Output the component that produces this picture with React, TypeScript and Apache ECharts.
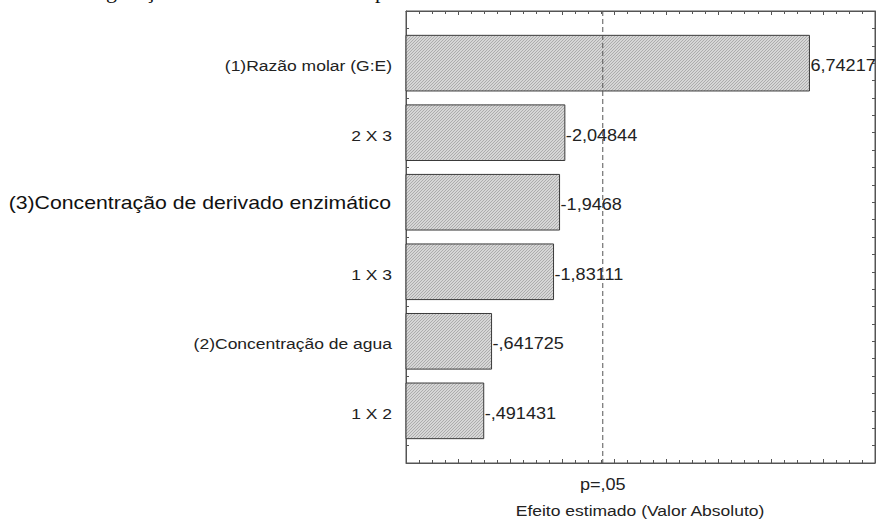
import React, { useEffect, useRef } from "react";
import * as echarts from "echarts";

const categories = [
  "(1)Razão molar (G:E)",
  "2 X 3",
  "(3)Concentração de derivado enzimático",
  "1 X 3",
  "(2)Concentração de agua",
  "1 X 2",
];
const effects = [6.74217, -2.04844, -1.9468, -1.83111, -0.641725, -0.491431];
const bigLabelIndex = 2;
const pCritical = 2.776;
const pLabel = "p=,05";
const xAxisTitle = "Efeito estimado (Valor Absoluto)";
const captionFragment = "Configuração dos efeitos estimados p";
const xMin = -1;
const xMax = 8;
const yMin = 0.25;
const yMax = 6.75;

const fmt = (v: number) => String(v).replace(".", ",").replace(/^(-?)0,/, "$1,");

function makePattern(): HTMLCanvasElement {
  const c = document.createElement("canvas");
  c.width = 3;
  c.height = 3;
  const ctx = c.getContext("2d")!;
  ctx.fillStyle = "#d6d6d6";
  ctx.fillRect(0, 0, 3, 3);
  ctx.fillStyle = "#acacac";
  for (let i = 0; i < 3; i++) {
    ctx.fillRect(i, 2 - i, 1, 1);
  }
  return c;
}

export default function App() {
  const ref = useRef<HTMLDivElement>(null);
  useEffect(() => {
    document.body.style.margin = "0";
    const chart = echarts.init(ref.current!, null, { renderer: "svg" });
    const pattern = { image: makePattern(), repeat: "repeat" } as any;
    const font = '"Liberation Sans", Arial, sans-serif';
    const axisColor = "#555";
    const sx = 1.13;
    const barData = effects.map((e, i) => [Math.abs(e), i + 1, e, i]);

    const valueAxisCommon = {
      type: "value",
      min: xMin,
      max: xMax,
      interval: 1,
      axisLine: { show: true, onZero: false, lineStyle: { color: axisColor, width: 1 } },
      axisTick: { show: true, inside: true, length: 4, lineStyle: { color: axisColor } },
      minorTick: { show: true, splitNumber: 4, length: 3, lineStyle: { color: axisColor } },
      splitLine: { show: false },
      axisLabel: { show: false },
    };
    const catAxisCommon = {
      type: "value",
      inverse: true,
      min: yMin,
      max: yMax,
      interval: 0.25,
      axisLine: { show: true, onZero: false, lineStyle: { color: axisColor, width: 1 } },
      axisTick: { show: true, inside: true, length: 3, lineStyle: { color: axisColor } },
      splitLine: { show: false },
      axisLabel: { show: false },
    };

    chart.setOption({
      animation: false,
      backgroundColor: "#fff",
      grid: {
        left: 406,
        top: 11,
        right: 1,
        bottom: 57,
        containLabel: false,
        show: true,
        borderColor: axisColor,
        borderWidth: 1,
        backgroundColor: "transparent",
      },
      xAxis: [
        { ...valueAxisCommon, position: "bottom" },
        { ...valueAxisCommon, position: "top" },
      ],
      yAxis: [
        { ...catAxisCommon, position: "left" },
        { ...catAxisCommon, position: "right" },
      ],
      series: [
        {
          type: "custom",
          name: "efeitos",
          xAxisIndex: 0,
          yAxisIndex: 0,
          clip: false,
          z: 2,
          data: barData,
          renderItem: (params: any, api: any) => {
            const val = api.value(0);
            const pos = api.value(1);
            const eff = api.value(2);
            const idx = api.value(3);
            const start = api.coord([xMin, pos]);
            const end = api.coord([val, pos]);
            const h = api.size([0, 0.8])[1];
            const big = idx === bigLabelIndex;
            return {
              type: "group",
              children: [
                {
                  type: "rect",
                  shape: { x: start[0], y: start[1] - h / 2, width: end[0] - start[0], height: h },
                  style: { fill: pattern, stroke: "#3a3a3a", lineWidth: 1 },
                },
                {
                  type: "text",
                  x: end[0] + 1,
                  y: end[1] + 3,
                  scaleX: sx,
                  style: {
                    text: fmt(eff),
                    font: `16px ${font}`,
                    fill: "#222",
                    align: "left",
                    verticalAlign: "middle",
                  },
                },
                {
                  type: "text",
                  x: start[0] - (big ? 15 : 14),
                  y: start[1] + (big ? 0 : 3),
                  scaleX: sx,
                  style: {
                    text: categories[idx],
                    font: `${big ? 18.8 : 15.5}px ${font}`,
                    fill: big ? "#111" : "#222",
                    align: "right",
                    verticalAlign: "middle",
                  },
                },
              ],
            };
          },
        },
        {
          type: "custom",
          name: "p",
          xAxisIndex: 0,
          yAxisIndex: 0,
          clip: false,
          z: 5,
          data: [[pCritical, yMin]],
          renderItem: (params: any, api: any) => {
            const cs = params.coordSys;
            const p = api.coord([api.value(0), api.value(1)]);
            return {
              type: "group",
              children: [
                {
                  type: "line",
                  shape: { x1: p[0], y1: cs.y, x2: p[0], y2: cs.y + cs.height },
                  style: { stroke: "#555", lineWidth: 1, lineDash: [5, 3] },
                },
                {
                  type: "text",
                  x: p[0],
                  y: cs.y + cs.height + 22,
                  scaleX: sx,
                  style: {
                    text: pLabel,
                    font: `16px ${font}`,
                    fill: "#222",
                    align: "center",
                    verticalAlign: "middle",
                  },
                },
              ],
            };
          },
        },
      ],
      graphic: [
        {
          type: "text",
          x: 640,
          y: 511,
          scaleX: sx,
          style: {
            text: xAxisTitle,
            font: `15.5px ${font}`,
            fill: "#222",
            align: "center",
            verticalAlign: "middle",
          },
        },
        {
          type: "text",
          x: 56,
          y: -21,
          style: {
            text: captionFragment,
            font: '22px "Liberation Serif", "Times New Roman", serif',
            fill: "#111",
          },
        },
      ],
    });
    return () => chart.dispose();
  }, []);
  return (
    <div
      ref={ref}
      style={{ position: "fixed", left: 0, top: 0, width: 876, height: 520 }}
    />
  );
}
